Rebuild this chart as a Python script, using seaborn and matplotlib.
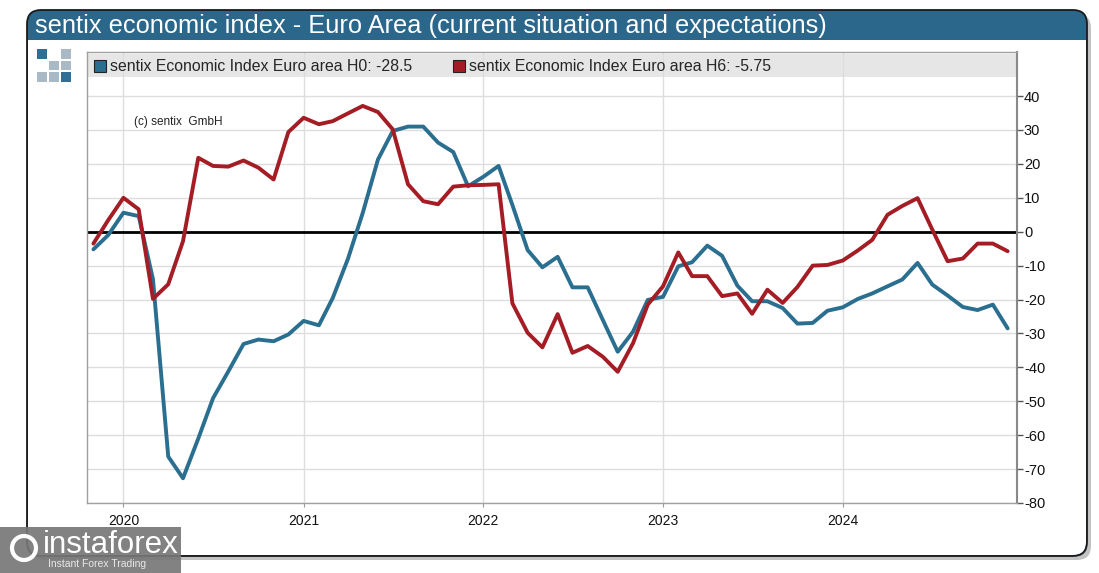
import pandas as pd
import matplotlib
matplotlib.use("Agg")
import matplotlib.pyplot as plt
import matplotlib.dates as mdates
from matplotlib.patches import FancyBboxPatch, Rectangle
from matplotlib.lines import Line2D
import seaborn as sns

# data (monthly, Nov 2019 - Dec 2024)
months = pd.date_range("2019-11-01", periods=62, freq="MS")

h0 = [-5.2, -1.0,
      5.6, 4.6, -14.0, -66.3, -72.7, -61.0, -49.1, -41.2, -33.1, -31.8, -32.3, -30.3,
      -26.3, -27.6, -19.6, -8.0, 5.5, 21.3, 29.7, 31.0, 31.0, 26.3, 23.5, 13.4,
      16.2, 19.4, 7.9, -5.4, -10.5, -7.4, -16.4, -16.4, -26.1, -35.4, -29.5, -20.1,
      -19.2, -10.2, -9.0, -4.1, -7.1, -15.9, -20.5, -20.5, -22.5, -27.1, -26.9, -23.3,
      -22.3, -19.8, -18.2, -16.1, -14.1, -9.2, -15.6, -18.8, -22.2, -23.1, -21.5, -28.5]

h6 = [-3.5, 3.4,
      10.0, 6.6, -19.8, -15.5, -2.8, 21.8, 19.4, 19.2, 21.0, 18.9, 15.4, 29.4,
      33.6, 31.7, 32.6, 34.9, 37.1, 35.3, 30.2, 14.0, 9.0, 8.1, 13.3, 13.7,
      13.8, 14.0, -21.1, -29.8, -34.1, -24.3, -35.7, -33.7, -36.9, -41.3, -32.9, -21.5,
      -16.1, -6.1, -13.1, -13.1, -19.0, -18.2, -24.2, -17.1, -21.0, -16.3, -10.0, -9.8,
      -8.5, -5.5, -2.4, 5.0, 7.6, 9.9, 0.6, -8.7, -7.9, -3.5, -3.5, -5.75]

series_names = ["sentix Economic Index Euro area H0: -28.5",
                "sentix Economic Index Euro area H6: -5.75"]
series_colors = ["#2a6f90", "#a41d25"]
yticks = list(range(-80, 50, 10))

df = pd.concat([
    pd.DataFrame({"date": months, "value": h0, "series": series_names[0]}),
    pd.DataFrame({"date": months, "value": h6, "series": series_names[1]}),
])

sns.set_style("white")
plt.rcParams["font.family"] = ["Liberation Sans", "DejaVu Sans"]
plt.rcParams["axes.unicode_minus"] = False

W, H = 1099, 573
fig = plt.figure(figsize=(W / 100, H / 100), dpi=100)

# background frame drawn in pixel coords
bg = fig.add_axes([0, 0, 1, 1], zorder=-5)
bg.set_xlim(0, W)
bg.set_ylim(H, 0)
bg.axis("off")

bg.add_patch(FancyBboxPatch((31, 14), 1060, 546, boxstyle="round,pad=0,rounding_size=14",
                            facecolor="#9a9a9a", edgecolor="none", alpha=0.6))
bg.add_patch(FancyBboxPatch((27, 10), 1060, 546, boxstyle="round,pad=0,rounding_size=14",
                            facecolor="#2a678b", edgecolor="none"))
bg.add_patch(Rectangle((28, 40), 1058, 450, facecolor="white", edgecolor="none"))
bg.add_patch(FancyBboxPatch((28, 400), 1058, 155, boxstyle="round,pad=0,rounding_size=13",
                            facecolor="white", edgecolor="none"))
bg.add_patch(FancyBboxPatch((27, 10), 1060, 546, boxstyle="round,pad=0,rounding_size=14",
                            facecolor="none", edgecolor="#1a1a1a", lw=1.3))
bg.text(35, 26, "sentix economic index - Euro Area (current situation and expectations)",
        color="white", fontsize=18.3, va="center", ha="left",
        family=["Liberation Sans Narrow", "Liberation Sans", "DejaVu Sans"])

# small logo squares
logo = [(0, 0, "#2f6f95"), (2, 0, "#aab9c6"),
        (1, 1, "#aab9c6"), (2, 1, "#aab9c6"),
        (0, 2, "#aab9c6"), (1, 2, "#aab9c6"), (2, 2, "#2f6f95")]
for cx, cy, c in logo:
    bg.add_patch(Rectangle((37 + cx * 12, 49 + cy * 11.5), 10, 9.5, facecolor=c, edgecolor="none"))

# main axes
ax = fig.add_axes([87 / W, 1 - 503 / H, (1017 - 87) / W, (503 - 52) / H])
ax.axhspan(45.6, 52.3, color="#e6e6e6", zorder=0.5, lw=0)

sns.lineplot(data=df, x="date", y="value", hue="series",
             palette=dict(zip(series_names, series_colors)),
             lw=2.8, ax=ax, legend=False, zorder=3)

ax.axhline(0, color="black", lw=2, zorder=2)

x0 = pd.Timestamp("2020-01-01")
ax.set_xlim(x0 - pd.Timedelta(days=74), pd.Timestamp("2024-01-01") + pd.Timedelta(days=354))
ax.set_ylim(-80, 53)
ax.set_yticks(yticks)
ax.yaxis.tick_right()
ax.xaxis.set_major_locator(mdates.YearLocator())
ax.xaxis.set_major_formatter(mdates.DateFormatter("%Y"))
ax.grid(True, color="#dddddd", lw=1, zorder=0)
ax.set_axisbelow(True)
ax.set_xlabel("")
ax.set_ylabel("")
ax.tick_params(axis="y", which="both", right=True, length=4, width=1, color="#555555",
               labelsize=10.5, pad=1, labelcolor="#111111")
ax.tick_params(axis="x", bottom=True, length=3, color="#999999", labelsize=10, pad=5,
               labelcolor="#111111")
for s in ax.spines.values():
    s.set_color("#a0a0a0")
    s.set_linewidth(1)
ax.spines["right"].set_color("#888888")
ax.spines["right"].set_linewidth(1.5)

handles = [Line2D([], [], ls="none", marker="s", markersize=8.5, markerfacecolor=c,
                  markeredgecolor="#222222", markeredgewidth=0.8) for c in series_colors]
ax.legend(handles, series_names, loc="upper left", bbox_to_anchor=(0.0, 1.0), ncol=2,
          frameon=False, fontsize=11.4, handlelength=0.7, handletextpad=0.3,
          columnspacing=2.6, borderaxespad=0.2, borderpad=0.25)

ax.text(x0 + pd.Timedelta(days=22), 32.5, "(c) sentix  GmbH", fontsize=8.5, color="#222222",
        va="center", ha="left")

# watermark
bg.add_patch(Rectangle((0, 527), 181, 46, facecolor="#777777", edgecolor="none", alpha=0.92, zorder=5))
bg.text(43, 545, "instaforex", color="white", fontsize=22.5, va="center", ha="left", zorder=6)
bg.text(48, 564, "Instant Forex Trading", color="#e8e8e8", fontsize=7.5, va="center", ha="left", zorder=6)
bg.add_patch(plt.Circle((24, 548), 12, facecolor="none", edgecolor="white", lw=3, zorder=6))

fig.savefig("out.png", dpi=100)
